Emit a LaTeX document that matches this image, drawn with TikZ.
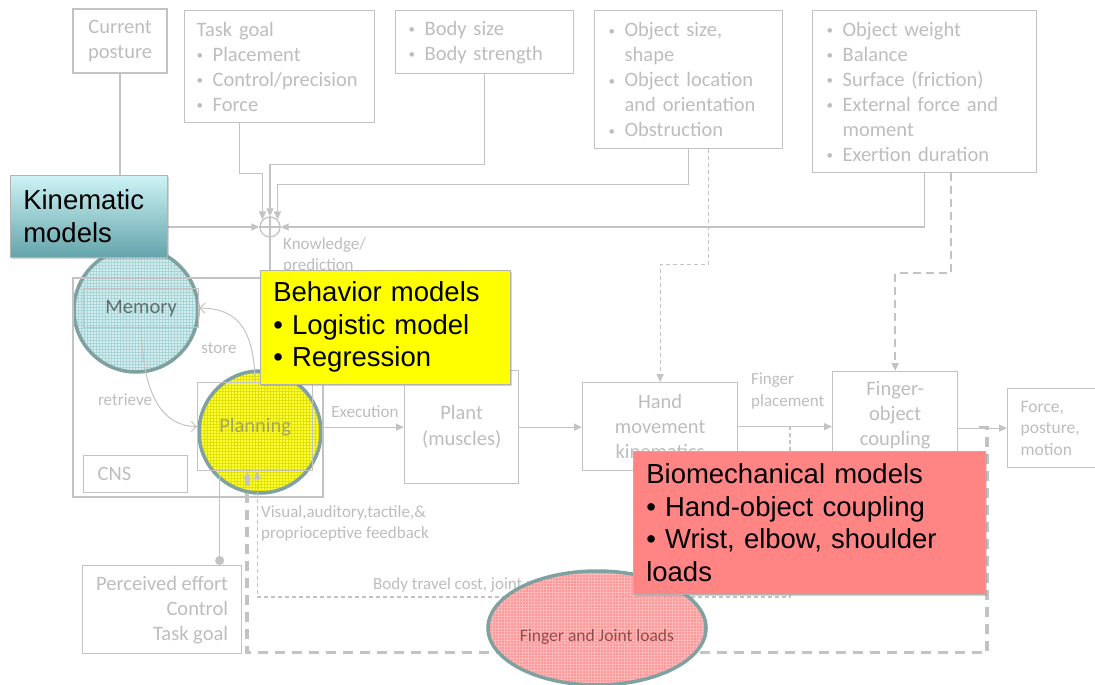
\documentclass[tikz,border=0pt]{standalone}
\usepackage{fontspec}
\setmainfont{Carlito}
\newfontfamily\arialfont{Liberation Sans}
\usepackage{tikz}
\usetikzlibrary{arrows.meta,positioning,calc,shapes.geometric,patterns,shadows}

\definecolor{lgray}{HTML}{C3C3C3}
\definecolor{tgray}{HTML}{BDBDBD}
\definecolor{ringc}{HTML}{7FA1A2}
\definecolor{memfill}{HTML}{D4EEEF}
\definecolor{memgrid}{HTML}{AAD5D7}
\definecolor{memtext}{HTML}{5E6E6F}
\definecolor{planfill}{HTML}{FFFF40}
\definecolor{plangrid}{HTML}{E2E200}
\definecolor{plantext}{HTML}{A5A560}
\definecolor{loadfill}{HTML}{FF8E8E}
\definecolor{loadgrid}{HTML}{FFB8B8}
\definecolor{loadtext}{HTML}{8E4C4C}
\definecolor{kintop}{HTML}{CDF3F5}
\definecolor{kinbot}{HTML}{64A4AB}
\definecolor{behfill}{HTML}{FFFF00}
\definecolor{biofill}{HTML}{FF8585}

\newcommand{\bl}{\makebox[16pt][l]{\raisebox{1.5pt}{\fontsize{13}{13}\selectfont\textbullet}}}
\newcommand{\ind}{\hspace*{16pt}}

\tikzset{
  gbox/.style={draw=lgray, line width=1.3pt, text=tgray, inner sep=0pt, anchor=north west,
               font=\fontsize{20.5}{25}\selectfont},
  glabel/.style={text=tgray, inner sep=0pt, font=\fontsize{17}{21.5}\selectfont},
  callout/.style={draw=black!30, line width=0.6pt, anchor=north west, inner sep=0pt, align=left,
                  font=\arialfont\fontsize{27.5}{32.5}\selectfont,
                  drop shadow={shadow xshift=2pt, shadow yshift=-2pt, opacity=0.35}},
  ring/.style={draw=ringc, line width=3.5pt},
  conn/.style={draw=lgray, line width=1.3pt},
  arr/.style={conn, -{Triangle[length=8pt,width=7pt]}},
  barb/.style={conn, line width=1pt, -{Straight Barb[length=5pt,width=10pt]}},
  fdash/.style={arr, dash pattern=on 4pt off 3pt, line width=1.2pt},
  mdash/.style={arr, dash pattern=on 8pt off 5pt, line width=2.3pt},
  tdash/.style={arr, dash pattern=on 10pt off 7pt, line width=3.6pt},
}

\begin{document}
\begin{tikzpicture}[x=1pt,y=-1pt]
\useasboundingbox (0,0) rectangle (1095,685);

% highlight circles (behind the boxes)
\node[circle, ring, minimum size=124pt, preaction={fill=memfill}, pattern=grid, pattern color=memgrid] (memhl) at (136,310) {};
\node[circle, ring, minimum size=122pt, preaction={fill=planfill}, pattern=grid, pattern color=plangrid] (planhl) at (260,432) {};

% inputs
\node[gbox, line width=2.2pt, minimum width=94pt, minimum height=64pt, align=center] (current) at (72,8) {Current\\posture};
\node[gbox, minimum width=190pt, minimum height=112pt, text width=166pt, align=left] (taskgoal) at (184,10)
  {Task goal\\\bl Placement\\\bl Control/precision\\\bl Force};
\node[gbox, minimum width=178pt, minimum height=63pt, text width=152pt, align=left] (body) at (395,10)
  {\bl Body size\\\bl Body strength};
\node[gbox, minimum width=188pt, minimum height=138pt, text width=160pt, align=left] (objgeo) at (594,10)
  {\bl Object size,\\\ind shape\\\bl Object location\\\ind and orientation\\\bl Obstruction};
\node[gbox, minimum width=224pt, minimum height=162pt, text width=196pt, align=left] (objload) at (812,10)
  {\bl Object weight\\\bl Balance\\\bl Surface (friction)\\\bl External force and\\\ind moment\\\bl Exertion duration};

% summing point
\node[circle, draw=lgray, line width=1.3pt, minimum size=20pt, inner sep=0pt] (sum) at (270,227) {};
\draw[conn] (sum.north) -- (sum.south) (sum.west) -- (sum.east);

% CNS and the chain
\node[gbox, line width=2.2pt, minimum width=250pt, minimum height=219pt] (cns) at (72,277) {};
\node[gbox, minimum width=115pt, minimum height=39pt, text=memtext] (memory) at (83,288) {Memory};
\node[gbox, minimum width=115pt, minimum height=88pt, text=plantext] (planning) at (197,382) {Planning};
\node[gbox, minimum width=104pt, minimum height=37pt, text width=76pt, align=left] (cnslbl) at (83,455) {CNS};
\node[gbox, minimum width=114pt, minimum height=113pt, align=center, font=\fontsize{20.5}{26}\selectfont] (plant) at (404,370) {Plant\\(muscles)};
\node[gbox, minimum width=155pt, minimum height=88pt, align=center] (hand) at (582,382) {Hand\\movement\\kinematics};
\node[gbox, minimum width=125pt, minimum height=88pt, align=center] (fingerobj) at (832,371) {Finger-\\object\\coupling};
\node[gbox, minimum width=110pt, minimum height=79pt, text width=84pt, align=left, font=\fontsize{17.5}{21.5}\selectfont] (output) at (1007,388) {Force,\\posture,\\motion};
\node[gbox, minimum width=159pt, minimum height=88pt, align=right] (perceived) at (82,565)
  {Perceived effort\\Control\\Task goal};

% labels
\node[glabel, anchor=west, align=left] (knowl) at (283,255.5) {Knowledge/\\prediction};
\node[glabel] (storelbl) at (219,348) {store};
\node[glabel] (retrlbl) at (125,400) {retrieve};
\node[glabel] (execlbl) at (365,412) {Execution};
\node[glabel, anchor=west, align=left] (placelbl) at (751,391) {Finger\\placement};
\node[glabel, anchor=west, align=left] (senslbl) at (261,523.5) {Visual,auditory,tactile,\&\\proprioceptive feedback};
\node[glabel, anchor=west] (travlbl) at (373,585) {Body travel cost, joint positions};

% into the summing point
\draw[arr] (current.south) |- (sum.west);
\draw[arr] ([xshift=-40pt]taskgoal.south) -- ++(0,50) -| (sum.135);
\draw[arr] (body.south) -- ++(0,90) -| (sum.north);
\draw[arr] (objgeo.south) -- ++(0,35) -| (sum.45);
\draw[arr] (objload.south) |- (sum.east);
\draw[arr] (sum.south) -- (sum.south |- planning.north);

% object info to hand and finger
\draw[fdash] ([xshift=20pt]objgeo.south) -- ++(0,115) -| (hand.north);
\draw[mdash] ([xshift=26pt]objload.south) -- ++(0,100) -| (fingerobj.north);

% memory loop
\draw[barb] (planning.north) .. controls (254,330) and (238,308) .. (memory.east);
\draw[barb] (memory.south) .. controls (143,400) and (165,426) .. (planning.west);

% forward chain
\draw[arr] (cns.east |- plant.west) -- (plant.west);
\draw[arr] (plant.east) -- (hand.west |- plant.east);
\draw[arr] (hand.east) -- (fingerobj.west |- hand.east);
\draw[arr] (fingerobj.east |- output.west) -- (output.west);

% feedback
\coordinate (tapA) at (790,426);
\coordinate (tapB) at (979,427.5);
\draw[fdash] (tapA) -- ++(0,171) -| ([xshift=2pt]planning.south);
\draw[tdash] (tapB) -- ++(8,0) -- ++(0,225) -| ([xshift=-8pt]planning.south);
\draw[conn, -{Circle[length=9pt]}] ([xshift=-35.5pt]planning.south) -- ([xshift=57.5pt]perceived.north);

% loads
\node[ellipse, ring, minimum width=200pt, minimum height=114pt, inner sep=0pt, fill opacity=0.9, text opacity=1,
      preaction={fill=loadfill}, pattern=grid, pattern color=loadgrid, text=loadtext,
      font=\fontsize{17.5}{20}\selectfont, text height=30pt, text depth=4pt] (loads) at (597,628) {Finger and Joint loads};

% model callouts
\node[callout, top color=kintop, bottom color=kinbot, minimum width=157pt, minimum height=82pt, text width=131pt] (kinematic) at (10,175)
  {Kinematic\\models};
\node[callout, fill=behfill, minimum width=250pt, minimum height=114pt, text width=224pt] (behavior) at (260,270)
  {Behavior models\\\textbullet{} Logistic model\\\textbullet{} Regression};
\node[callout, fill=biofill, minimum width=352pt, minimum height=143pt, text width=326pt] (biomech) at (633,451)
  {Biomechanical models\\\textbullet{} Hand-object coupling\\\textbullet{} Wrist, elbow, shoulder\\loads};
\end{tikzpicture}
\end{document}
